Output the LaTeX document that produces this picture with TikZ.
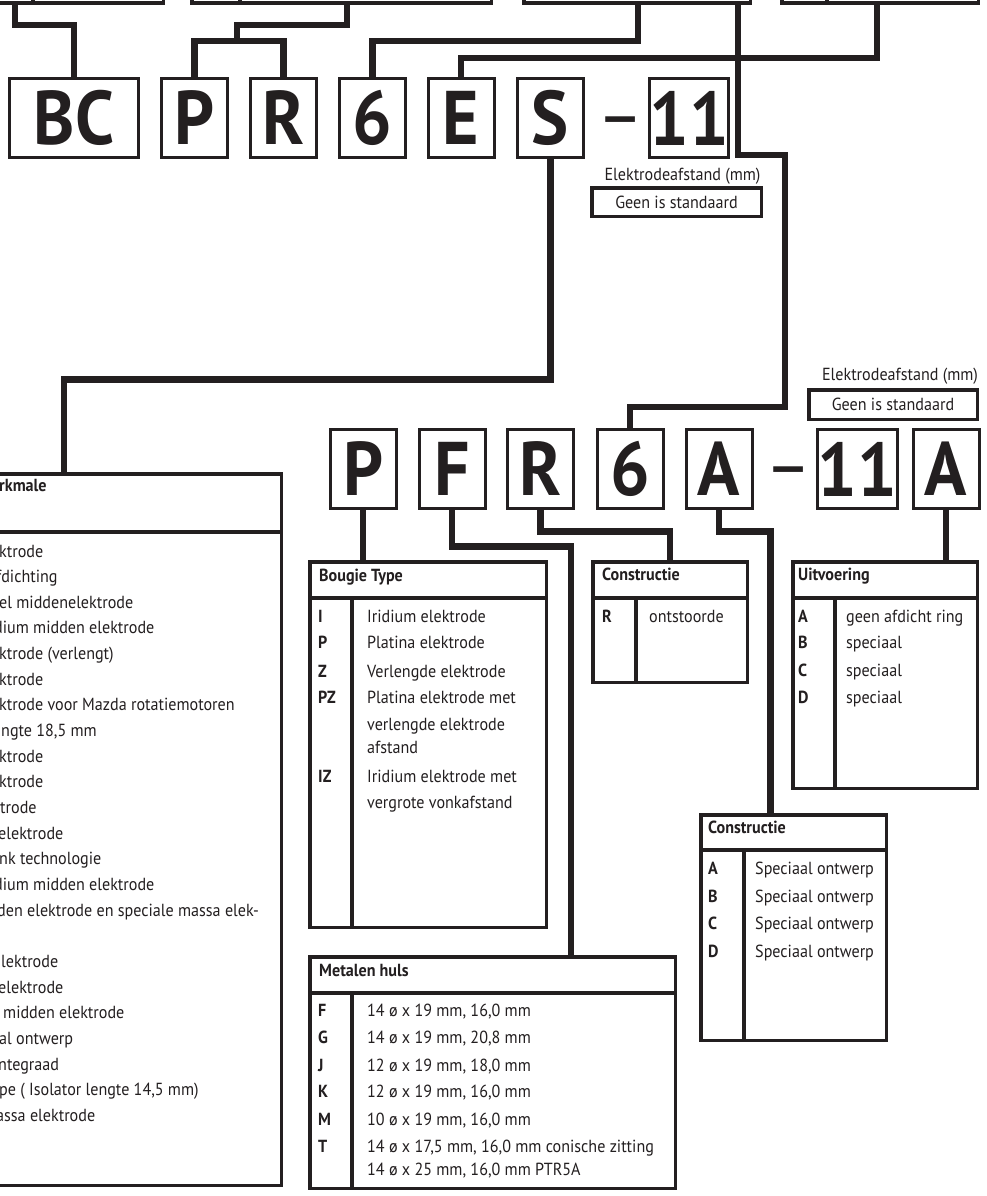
\documentclass[tikz,border=0pt]{standalone}
\usepackage{fontspec}
\setmainfont[FakeStretch=0.92]{PT Sans}
\usetikzlibrary{backgrounds}
\definecolor{ink}{RGB}{35,31,32}
\newcommand\tabbox[5]{\node[tbl,minimum width={(#4-(#2)-3.5)*1pt},minimum height={(#5-(#3)-3.5)*1pt}] (#1) at ({(#2+#4)/2},{(#3+#5)/2}) {};}
\tikzset{
  conn/.style={draw=ink,line width=6.5pt,line cap=rect},
  codebox/.style={draw=ink,line width=3pt,fill=white,inner sep=0pt,minimum width=66pt,minimum height=79pt,text=ink,font=\fontsize{76}{76}\selectfont\bfseries},
  tbl/.style={draw=ink,line width=3.5pt,fill=white,inner sep=0pt},
  tline/.style={draw=ink,line width=3.5pt},
  txt/.style={anchor=base west,inner sep=0pt,text=ink,font=\fontsize{17.5}{20}\selectfont},
  key/.style={txt,font=\fontsize{17.5}{20}\selectfont\bfseries},
  gapbox/.style={draw=ink,line width=3.5pt,fill=white,inner sep=0pt,text=ink,font=\fontsize{17.5}{20}\selectfont},
  dashtxt/.style={inner sep=0pt,text=ink,font=\fontsize{76}{76}\selectfont},
}
\begin{document}
\begin{tikzpicture}[x=1pt,y=-1pt]
\useasboundingbox (0,0) rectangle (987,1196);
\begin{scope}
\clip (0,0) rectangle (987,1196);

% ---- top (cut off) tables
\tabbox{top1}{-60}{-40}{165}{5}
\draw[tline] (33,-40) -- (33,3.25);
\tabbox{top2}{190}{-40}{493}{5}
\draw[tline] (240,-40) -- (240,3.25);
\tabbox{top3}{522}{-40}{752}{5}
\tabbox{top4}{780}{-40}{980}{5}
\draw[tline] (827,-40) -- (827,3.25);
\coordinate (t1) at (15,3);
\coordinate (t2) at (347,3);
\coordinate (t3) at (638,3);
\coordinate (t3b) at (738,3);
\coordinate (t4) at (877,3);
\coordinate (j1) at (237,41);

% ---- first code row
\node[codebox,minimum width=129pt] (bc) at (74,118) {BC};
\node[codebox] (p1) at (194.5,118) {P};
\node[codebox] (r1) at (283.5,118) {R};
\node[codebox] (s61) at (372.5,118) {6};
\node[codebox] (e1) at (461,118) {E};
\node[codebox] (s1) at (550.5,118) {S};
\node[dashtxt] (d1) at (620.5,129) {–};
\node[codebox,minimum width=65pt] (n1) at (689,118) {11};

\node[txt,anchor=base] (el1) at (682.5,180) {Elektrodeafstand (mm)};
\node[gapbox,minimum width=169.5pt,minimum height=28.5pt] (g1) at (676.5,202) {Geen is standaard};

% ---- second code row
\node[codebox] (p2) at (363,469) {P};
\node[codebox] (f2) at (452,469) {F};
\node[codebox] (r2) at (540.5,469) {R};
\node[codebox] (s62) at (630,469) {6};
\node[codebox] (a2) at (719,469) {A};
\node[dashtxt] (d2) at (789,479) {–};
\node[codebox] (n2) at (857.5,469) {11};
\node[codebox] (a3) at (946,469) {A};

\node[txt,anchor=base] (el2) at (900,380) {Elektrodeafstand (mm)};
\node[gapbox,minimum width=168.5pt,minimum height=29.5pt] (g2) at (893,404.5) {Geen is standaard};

% ---- left table
\tabbox{kenm}{-155}{472}{283}{1187}
\draw[tline] (-155,532) -- (281.25,532);
\node[key] (kh) at (-1,491) {rkmale};
\foreach \i/\x/\t in {1/-1/ktrode, 2/-4/fdichting, 3/-1/el middenelektrode, 4/-6/dium midden elektrode,
  5/-1/ktrode (verlengt), 6/-1/ktrode, 7/-1/ktrode voor Mazda rotatiemotoren, 8/1/{ngte 18,5 mm},
  9/-1/ktrode, 10/-1/ktrode, 11/0/trode, 12/-2/elektrode, 13/-1/nk technologie,
  14/-6/dium midden elektrode, 15/-3/den elektrode en speciale massa elek-, 17/1/lektrode,
  18/-2/elektrode, 19/3/midden elektrode, 20/-1/al ontwerp, 21/-2/ntegraad,
  22/-1/{pe ( Isolator lengte 14,5 mm)}, 23/-4/assa elektrode}
  \node[txt] (kr\i) at (\x,{557+25.65*(\i-1)}) {\t};

% ---- Bougie Type
\tabbox{bougie}{308}{560}{548}{929}
\draw[tline] (309.75,598) -- (546.25,598);
\draw[tline] (352,598) -- (352,927.25);
\node[key] (bh) at (319,581) {Bougie Type};
\foreach \n/\y/\k/\t in {1/622/I/Iridium elektrode, 2/648/P/Platina elektrode, 3/677/Z/Verlengde elektrode,
  4/703/PZ/Platina elektrode met, 5/730//verlengde elektrode, 6/753//afstand,
  7/782/IZ/Iridium elektrode met, 8/808//vergrote vonkafstand}{
  \node[key] (bk\n) at (318,\y) {\k};
  \node[txt] (bd\n) at (367,\y) {\t};
}

% ---- Metalen huls
\tabbox{metal}{308}{955}{677}{1190}
\draw[tline] (309.75,993) -- (675.25,993);
\draw[tline] (352,993) -- (352,1188.25);
\node[key] (mh) at (319,976) {Metalen huls};
\foreach \n/\y/\k/\t in {1/1016/F/{14 ø x 19 mm, 16,0 mm}, 2/1043/G/{14 ø x 19 mm, 20,8 mm},
  3/1071/J/{12 ø x 19 mm, 18,0 mm}, 4/1097/K/{12 ø x 19 mm, 16,0 mm}, 5/1125/M/{10 ø x 19 mm, 16,0 mm},
  6/1152/T/{14 ø x 17,5 mm, 16,0 mm conische zitting}, 7/1175//{14 ø x 25 mm, 16,0 mm PTR5A}}{
  \node[key] (mk\n) at (318,\y) {\k};
  \node[txt] (md\n) at (367,\y) {\t};
}

% ---- Constructie (R)
\tabbox{constr1}{591}{560}{749}{684}
\draw[tline] (592.75,598) -- (747.25,598);
\draw[tline] (636,598) -- (636,682.25);
\node[key] (c1h) at (602,580) {Constructie};
\node[key] (c1k) at (602,622) {R};
\node[txt] (c1d) at (649,622) {ontstoorde};

% ---- Uitvoering
\tabbox{uitv}{791}{560}{979}{790}
\draw[tline] (792.75,598) -- (977.25,598);
\draw[tline] (835,598) -- (835,788.25);
\node[key] (uh) at (798,580) {Uitvoering};
\foreach \n/\y/\k/\t in {1/622/A/geen afdicht ring, 2/648/B/speciaal, 3/676/C/speciaal, 4/703/D/speciaal}{
  \node[key] (uk\n) at (798,\y) {\k};
  \node[txt] (ud\n) at (846,\y) {\t};
}

% ---- Constructie (A-D)
\tabbox{constr2}{699}{813}{888}{1042}
\draw[tline] (700.75,850) -- (886.25,850);
\draw[tline] (744,850) -- (744,1040.25);
\node[key] (c2h) at (708,833) {Constructie};
\foreach \n/\y/\k in {1/874/A, 2/902/B, 3/929/C, 4/957/D}{
  \node[key] (c2k\n) at (708,\y) {\k};
  \node[txt] (c2d\n) at (755,\y) {Speciaal ontwerp};
}
\end{scope}

% ---- connectors
\begin{pgfonlayer}{background}
\draw[conn] (t1) -- ++(0,22) -| (bc.north);
\draw[conn] (t2) -- ++(0,22) -| (j1);
\draw[conn] (p1.north) |- (j1) -| (r1.north);
\draw[conn] (t3) -- ++(0,38) -| (s61.north);
\draw[conn] (t4) -- ++(0,55) -| (e1.north);
\draw[conn] (t3b) -- ++(0,152) -- ++(47,0) -- ++(0,252) -| (s62.north);
\draw[conn] (s1.south) -- ++(0,220.5) -| (kenm.north);
\draw[conn] (p2.south) -- (p2.south |- bougie.north);
\draw[conn] (f2.south) -- ++(0,36.5) -| ([xshift=-106pt]metal.north east);
\draw[conn] (r2.south) -- ++(0,21.5) -| (constr1.north);
\draw[conn] (a2.south) -- ++(0,21.5) -| ([xshift=-23pt]constr2.north);
\draw[conn] (a3.south) -- (a3.south |- uitv.north);
\end{pgfonlayer}
\end{tikzpicture}
\end{document}
